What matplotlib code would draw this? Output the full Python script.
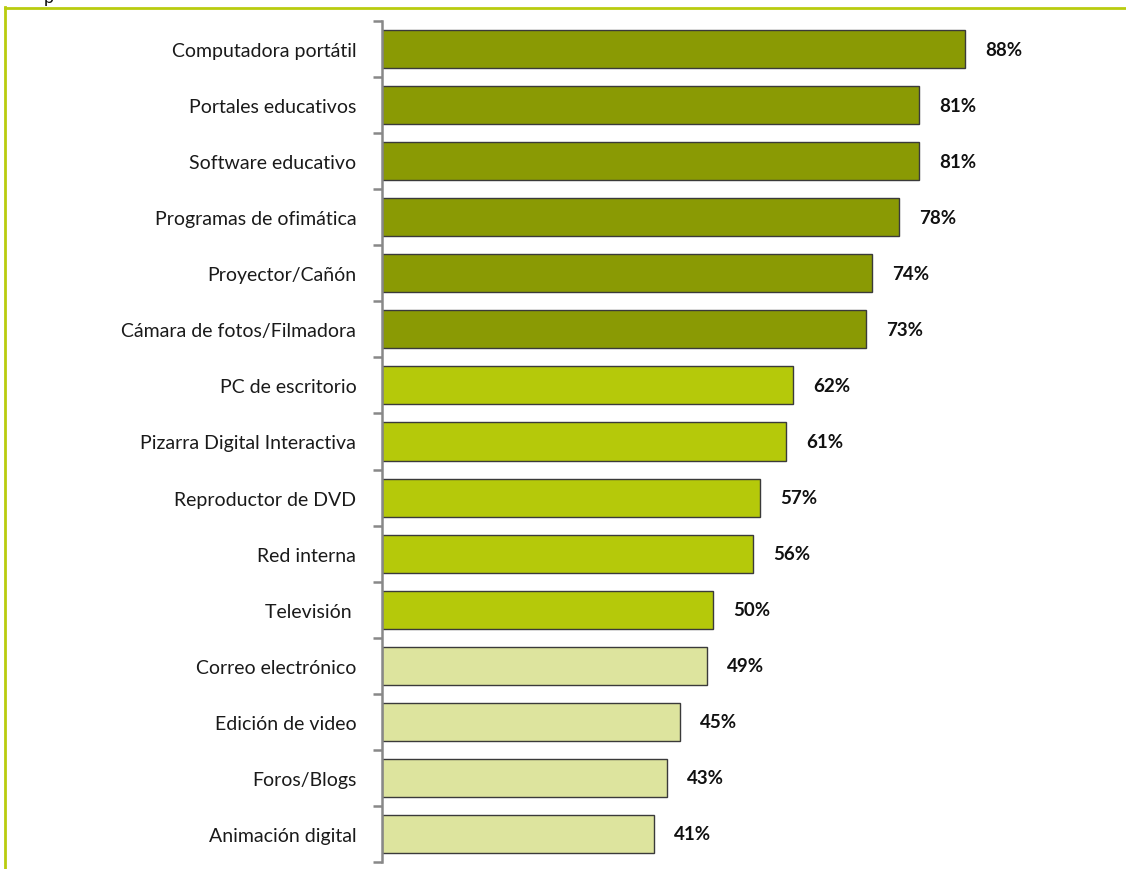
import matplotlib
matplotlib.use("Agg")
import matplotlib.pyplot as plt
from matplotlib.lines import Line2D
import numpy as np

plt.rcParams['font.family'] = ['Lato', 'DejaVu Sans']

categories = [
    "Computadora portátil", "Portales educativos", "Software educativo",
    "Programas de ofimática", "Proyector/Cañón", "Cámara de fotos/Filmadora",
    "PC de escritorio", "Pizarra Digital Interactiva", "Reproductor de DVD",
    "Red interna", "Televisión ", "Correo electrónico", "Edición de video",
    "Foros/Blogs", "Animación digital",
]
values = [88, 81, 81, 78, 74, 73, 62, 61, 57, 56, 50, 49, 45, 43, 41]
groups = [0, 0, 0, 0, 0, 0, 1, 1, 1, 1, 1, 2, 2, 2, 2]
group_colors = ["#8A9A04", "#B5C90A", "#DDE49E"]

W, H = 1126, 870
fig = plt.figure(figsize=(W / 100, H / 100), dpi=100)
fig.patch.set_facecolor("white")

ax_left, ax_right = 382, W
ax_top, ax_bottom = 22, 863
ax = fig.add_axes([ax_left / W, (H - ax_bottom) / H,
                   (ax_right - ax_left) / W, (ax_bottom - ax_top) / H])

px_per_unit = 583 / 88.0
ax.set_xlim(0, (ax_right - ax_left) / px_per_unit)
n = len(categories)
ax.set_ylim(n - 0.5, -0.5)

y = np.arange(n)
colors = [group_colors[g] for g in groups]
ax.barh(y, values, height=0.68, color=colors, edgecolor="#3a3a3a",
        linewidth=1.0, zorder=2)

for yi, v in zip(y, values):
    ax.annotate(f"{v}%", xy=(v, yi), xytext=(14.5, 0), textcoords="offset points",
                ha="left", va="center", fontsize=13.5, fontweight="bold",
                color="#111111")

ax.set_yticks(y)
ax.set_yticklabels(categories, fontsize=14, color="#1a1a1a")
ax.tick_params(axis="y", which="major", length=0, pad=18.5)
ax.set_yticks(np.arange(-0.5, n, 1.0), minor=True)
ax.tick_params(axis="y", which="minor", length=6.5, width=1.8, color="#888888")
ax.set_xticks([])

for side in ("top", "right", "bottom"):
    ax.spines[side].set_visible(False)
ax.spines["left"].set_color("#888888")
ax.spines["left"].set_linewidth(1.8)

# green frame of the panel
frame_color = "#B9CC0E"
fig.add_artist(Line2D([4.5 / W, 1.0], [1 - 9 / H, 1 - 9 / H],
                      transform=fig.transFigure, color=frame_color, lw=2.0))
fig.add_artist(Line2D([5 / W, 5 / W], [0, 1 - 8 / H],
                      transform=fig.transFigure, color=frame_color, lw=2.0))

# descender of the heading clipped at the top edge
fig.text(44 / W, 1 - 3 / H, "p", fontsize=13, color="#111111",
         ha="left", va="baseline")

fig.savefig("out.png", dpi=100, facecolor="white")
